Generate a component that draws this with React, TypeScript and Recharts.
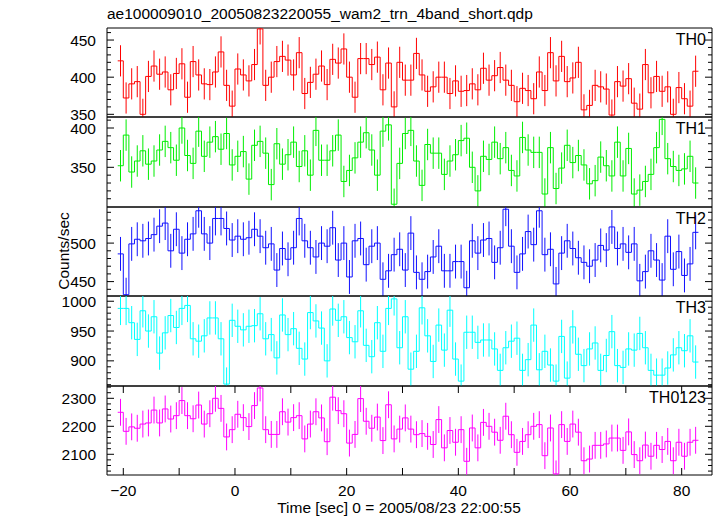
import { ComposedChart, Line, ErrorBar, XAxis, YAxis, ReferenceArea } from "recharts"

// 1 s bins, first bin starts at t = -21 s
const binStart = -21
const binWidth = 1

const th0 = [
  422, 372, 391, 394, 350, 401, 415, 404, 407, 383, 405, 418, 373, 421, 403, 391, 390, 407, 434, 389,
  361, 411, 403, 395, 417, 465, 389, 400, 421, 428, 423, 403, 433, 378, 393, 404, 415, 390, 424, 419,
  438, 400, 373, 425, 425, 417, 427, 383, 419, 360, 420, 396, 396, 432, 403, 381, 387, 400, 400, 378,
  395, 381, 382, 391, 383, 412, 396, 402, 413, 396, 389, 367, 385, 382, 371, 407, 382, 433, 395, 428,
  394, 399, 420, 356, 362, 389, 387, 384, 349, 394, 388, 398, 365, 357, 417, 379, 401, 381, 387, 350,
  386, 371, 361, 408,
]
const th1 = [
  352, 391, 344, 358, 371, 354, 358, 372, 383, 375, 359, 400, 365, 355, 396, 364, 382, 389, 373, 393,
  353, 364, 370, 335, 378, 383, 368, 328, 380, 354, 366, 382, 351, 371, 340, 397, 359, 359, 371, 391,
  332, 346, 362, 382, 394, 372, 340, 396, 404, 303, 355, 393, 397, 358, 327, 379, 368, 368, 341, 358,
  366, 384, 387, 350, 320, 364, 360, 382, 361, 375, 346, 339, 388, 372, 369, 369, 316, 375, 323, 349,
  378, 356, 365, 353, 329, 333, 363, 352, 339, 382, 339, 374, 316, 321, 332, 341, 375, 411, 361, 351,
  346, 348, 364, 330,
]
const th2 = [
  486, 433, 499, 505, 503, 506, 511, 522, 526, 490, 518, 487, 505, 512, 542, 512, 500, 532, 532, 519,
  504, 509, 505, 507, 518, 509, 494, 499, 465, 493, 479, 494, 532, 503, 494, 482, 500, 496, 520, 478,
  500, 456, 503, 506, 472, 496, 500, 453, 464, 485, 492, 465, 513, 462, 453, 463, 482, 496, 464, 464,
  476, 476, 442, 503, 487, 504, 506, 475, 494, 544, 496, 462, 486, 515, 498, 542, 485, 492, 447, 487,
  503, 493, 481, 475, 470, 478, 497, 491, 521, 493, 499, 488, 499, 451, 463, 490, 478, 452, 509, 466,
  489, 458, 473, 514,
]
const th3 = [
  988, 988, 964, 936, 984, 950, 974, 913, 947, 976, 956, 988, 993, 937, 933, 942, 972, 972, 937, 861,
  968, 958, 952, 958, 959, 979, 937, 944, 905, 977, 944, 954, 921, 903, 981, 967, 955, 900, 987, 968,
  974, 939, 932, 984, 926, 907, 964, 916, 988, 1004, 922, 974, 886, 916, 989, 942, 899, 960, 918, 985,
  903, 866, 948, 948, 931, 935, 935, 920, 884, 922, 933, 938, 884, 902, 960, 885, 916, 893, 866, 941,
  871, 957, 911, 892, 920, 930, 884, 909, 949, 892, 889, 920, 918, 946, 922, 884, 876, 876, 888, 910,
  922, 917, 942, 898,
]
const th0123 = [
  2250, 2182, 2198, 2193, 2208, 2212, 2258, 2212, 2262, 2226, 2238, 2292, 2238, 2227, 2276, 2208, 2245, 2300, 2264, 2162,
  2188, 2243, 2231, 2199, 2274, 2337, 2188, 2171, 2171, 2252, 2215, 2231, 2238, 2155, 2208, 2252, 2230, 2145, 2304, 2256,
  2245, 2140, 2171, 2299, 2218, 2193, 2233, 2149, 2277, 2155, 2190, 2230, 2190, 2170, 2174, 2164, 2135, 2224, 2123, 2185,
  2143, 2188, 2075, 2194, 2123, 2214, 2200, 2179, 2150, 2236, 2170, 2107, 2146, 2170, 2200, 2206, 2095, 2194, 2030, 2206,
  2146, 2208, 2179, 2077, 2083, 2132, 2132, 2137, 2158, 2158, 2114, 2180, 2099, 2077, 2133, 2093, 2132, 2117, 2146, 2077,
  2143, 2093, 2143, 2150,
]

// typical 1-sigma error per band, counts/sec
const errors = [21, 20, 22, 28, 48]

const xTicks = [-20, -10, 0, 10, 20, 30, 40, 50, 60, 70, 80]
const xLabelled = [-20, 0, 20, 40, 60, 80]

const yTicks0 = [350, 360, 370, 380, 390, 400, 410, 420, 430, 440, 450, 460]
const yTicks1 = [310, 320, 330, 340, 350, 360, 370, 380, 390, 400, 410]
const yTicks2 = [440, 450, 460, 470, 480, 490, 500, 510, 520, 530, 540]
const yTicks3 = [860, 870, 880, 890, 900, 910, 920, 930, 940, 950, 960, 970, 980, 990, 1000]
const yTicks4 = [2040, 2060, 2080, 2100, 2120, 2140, 2160, 2180, 2200, 2220, 2240, 2260, 2280, 2300, 2320, 2340]
const yLabelled = [
  [350, 400, 450],
  [350, 400],
  [450, 500],
  [900, 950, 1000],
  [2100, 2200, 2300],
]

const names = ["TH0", "TH1", "TH2", "TH3", "TH0123"]
const series = [th0, th1, th2, th3, th0123]
const yTicks = [yTicks0, yTicks1, yTicks2, yTicks3, yTicks4]

const colors = ["#ff0000", "#00ee00", "#1010ff", "#00ffff", "#ff00ff"]
const yDomains: [number, number][] = [
  [346.4, 466.2],
  [299.5, 414],
  [431.3, 546.9],
  [857.8, 1008.8],
  [2026, 2344],
]
const xDomain: [number, number] = [-22.92, 85.43]

const panelTop = [28, 117, 207, 296, 386]
const panelBottom = [117, 207, 296, 386, 475]
const plotLeft = 107
const plotRight = 712
const W = 717
const FONT = "'Liberation Sans', Arial, Helvetica, sans-serif"

function buildRows(values: number[], err: number) {
  const rows = values.map((v, i) => ({ t: binStart + (i + 0.5) * binWidth, v, e: err }))
  const last = values.length - 1
  return [
    { t: binStart, v: values[0] },
    ...rows,
    { t: binStart + values.length * binWidth, v: values[last] },
  ]
}

const fmt = (v: number) => (v < 0 ? "\u2212" + Math.abs(v) : String(v))

function Panel({ idx }: { idx: number }) {
  const plotH = panelBottom[idx] - panelTop[idx]
  const isLast = idx === series.length - 1
  const extra = isLast ? 40 : 0
  const rows = buildRows(series[idx], errors[idx])
  const major = yLabelled[idx]
  const color = colors[idx]
  const dom = yDomains[idx]
  const clipId = `panel-clip-${idx}`

  const xTick = (p: any) => {
    const x = p.x
    const y = p.y
    const v = p.payload.value
    return (
      <g>
        <line x1={x} x2={x} y1={y} y2={y - 7} stroke="#000" strokeWidth={1} />
        <line x1={x} x2={x} y1={y - plotH} y2={y - plotH + 7} stroke="#000" strokeWidth={1} />
        {isLast && xLabelled.includes(v) && (
          <text x={x} y={y + 21} textAnchor="middle" fontSize={15.5} fontFamily={FONT} fill="#000">
            {fmt(v)}
          </text>
        )}
      </g>
    )
  }

  const yTick = (p: any) => {
    const x = plotLeft
    const y = p.y
    const v = p.payload.value
    const isMajor = major.includes(v)
    const len = isMajor ? 7 : 4
    return (
      <g>
        <line x1={x} x2={x + len} y1={y} y2={y} stroke="#000" strokeWidth={1} />
        <line x1={plotRight} x2={plotRight - len} y1={y} y2={y} stroke="#000" strokeWidth={1} />
        {isMajor && (
          <text x={x - 11} y={y + 5.5} textAnchor="end" fontSize={15.5} fontFamily={FONT} fill="#000">
            {fmt(v)}
          </text>
        )}
      </g>
    )
  }

  return (
    <div style={{ position: "absolute", left: 0, top: panelTop[idx] }}>
      <ComposedChart
        width={W}
        height={plotH + extra}
        data={rows}
        margin={{ top: 0, right: W - plotRight, bottom: 0, left: 0 }}
      >
        <defs>
          <clipPath id={clipId}>
            <rect x={plotLeft} y={0} width={plotRight - plotLeft} height={plotH} />
          </clipPath>
        </defs>
        <XAxis
          dataKey="t"
          type="number"
          domain={xDomain}
          allowDataOverflow
          ticks={xTicks}
          interval={0}
          height={extra}
          axisLine={false}
          tickLine={false}
          tickSize={0}
          tickMargin={0}
          tick={xTick}
        />
        <YAxis
          type="number"
          domain={dom}
          allowDataOverflow
          ticks={yTicks[idx]}
          interval={0}
          width={plotLeft}
          axisLine={false}
          tickLine={false}
          tickSize={0}
          tickMargin={0}
          tick={yTick}
        />
        <ReferenceArea
          x1={xDomain[0]}
          x2={xDomain[1]}
          y1={dom[0]}
          y2={dom[1]}
          fill="none"
          fillOpacity={0}
          stroke="#000"
          strokeWidth={1}
          strokeOpacity={1}
        />
        <Line
          type="step"
          dataKey="v"
          stroke={color}
          strokeWidth={1}
          dot={false}
          activeDot={false}
          isAnimationActive={false}
        >
          <ErrorBar
            dataKey="e"
            width={0}
            stroke={color}
            strokeWidth={1}
            direction="y"
            clipPath={`url(#${clipId})`}
          />
        </Line>
      </ComposedChart>
    </div>
  )
}

export default function App() {
  return (
    <div style={{ position: "absolute", left: 0, top: 0, width: W, height: 516, background: "#fff" }}>
      <style>{"svg.recharts-surface{overflow:visible}"}</style>
      {series.map((_, i) => (
        <Panel key={names[i]} idx={i} />
      ))}
      <svg
        width={W}
        height={516}
        style={{ position: "absolute", left: 0, top: 0, pointerEvents: "none" }}
      >
        <text x={107} y={19} fontSize={15.5} fontFamily={FONT} fill="#000">
          ae100009010_20050823220055_wam2_trn_4band_short.qdp
        </text>
        {names.map((n, i) => (
          <text key={n} x={706} y={panelTop[i] + 17} textAnchor="end" fontSize={16} fontFamily={FONT} fill="#000">
            {n}
          </text>
        ))}
        <text
          x={69}
          y={251}
          textAnchor="middle"
          fontSize={15.5}
          fontFamily={FONT}
          fill="#000"
          transform="rotate(-90 69 251)"
        >
          Counts/sec
        </text>
        <text x={399} y={513} textAnchor="middle" fontSize={15.5} fontFamily={FONT} fill="#000">
          Time [sec] 0 = 2005/08/23 22:00:55
        </text>
      </svg>
    </div>
  )
}
